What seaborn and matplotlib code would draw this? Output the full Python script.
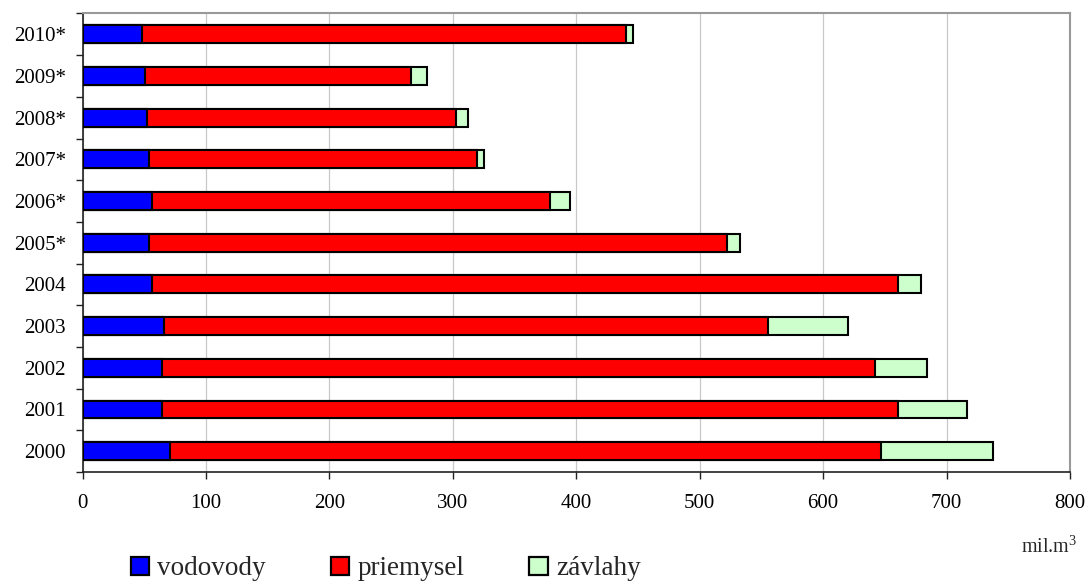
import numpy as np
import pandas as pd
import matplotlib
matplotlib.use("Agg")
import matplotlib.pyplot as plt
from matplotlib.patches import Patch
from matplotlib.ticker import FixedLocator
import seaborn as sns

# Water withdrawals by sector, mil. m3 (top row first)
years = ["2010*", "2009*", "2008*", "2007*", "2006*", "2005*",
         "2004", "2003", "2002", "2001", "2000"]
vodovody = [48, 51, 52, 53.5, 56, 54, 56, 66, 64, 64.5, 70.5]
priemysel = [392.5, 215.2, 250.9, 265.8, 322.8, 467.7, 604.7, 489.6, 577.8, 596.2, 576.3]
zavlahy = [5.7, 12.5, 9.3, 6.1, 15.7, 10.7, 18.9, 64.8, 42.4, 55.6, 90.5]

series_names = ["vodovody", "priemysel", "závlahy"]
series_colors = ["#0000ff", "#ff0000", "#ccffcc"]

sns.set_theme(style="white")
plt.rcParams["font.family"] = ["Liberation Serif", "DejaVu Serif"]
plt.rcParams["mathtext.fontset"] = "stix"

df = pd.DataFrame({"rok": years, "vodovody": vodovody,
                   "priemysel": priemysel, "zavlahy": zavlahy})
df["c1"] = df["vodovody"]
df["c2"] = df["c1"] + df["priemysel"]
df["c3"] = df["c2"] + df["zavlahy"]

fig = plt.figure(figsize=(10.89, 5.81), dpi=100)
ax = fig.add_axes([0.0758, 0.1876, 0.9068, 0.7892])

# Stacked bars: draw cumulative totals from the largest down
for col, color in zip(["c3", "c2", "c1"], series_colors[::-1]):
    sns.barplot(data=df, x=col, y="rok", order=years, orient="h",
                color=color, width=0.43, edgecolor="black", linewidth=1.5,
                saturation=1, ax=ax, zorder=3)

ax.set_xlim(0, 800)
ax.set_ylim(len(years) - 0.5, -0.5)
ax.set_xticks(np.arange(0, 801, 100))
ax.set_xlabel("")
ax.set_ylabel("")

ax.grid(axis="x", color="#c8c8c8", linewidth=0.9, zorder=0)
ax.grid(axis="y", visible=False)
ax.set_axisbelow(True)

for side in ["left", "bottom"]:
    ax.spines[side].set_color("#222222")
    ax.spines[side].set_linewidth(1.2)
for side in ["top", "right"]:
    ax.spines[side].set_color("#999999")
    ax.spines[side].set_linewidth(1.5)

ax.tick_params(axis="x", which="major", direction="out", length=5, width=1,
               color="#222222", labelsize=15, pad=11, bottom=True)
ax.tick_params(axis="y", which="major", length=0, labelsize=15, pad=12)
ax.yaxis.set_minor_locator(FixedLocator(np.arange(-0.5, len(years), 1.0)))
ax.tick_params(axis="y", which="minor", direction="out", length=5, width=1,
               color="#222222", left=True)
for lbl in ax.get_xticklabels() + ax.get_yticklabels():
    lbl.set_color("black")

handles = [Patch(facecolor=c, edgecolor="black", linewidth=1.6, label=n)
           for n, c in zip(series_names, series_colors)]
fig.legend(handles=handles, loc="center left", bbox_to_anchor=(0.12, 0.021),
           ncol=3, frameon=False, fontsize=19.5, handlelength=0.68,
           handleheight=0.68, handletextpad=0.3, columnspacing=2.4,
           borderaxespad=0, borderpad=0)

fig.text(0.989, 0.059, r"mil.m$^{\mathregular{3}}$", ha="right", va="center",
         fontsize=14.5)

fig.savefig("out.png", dpi=100)
